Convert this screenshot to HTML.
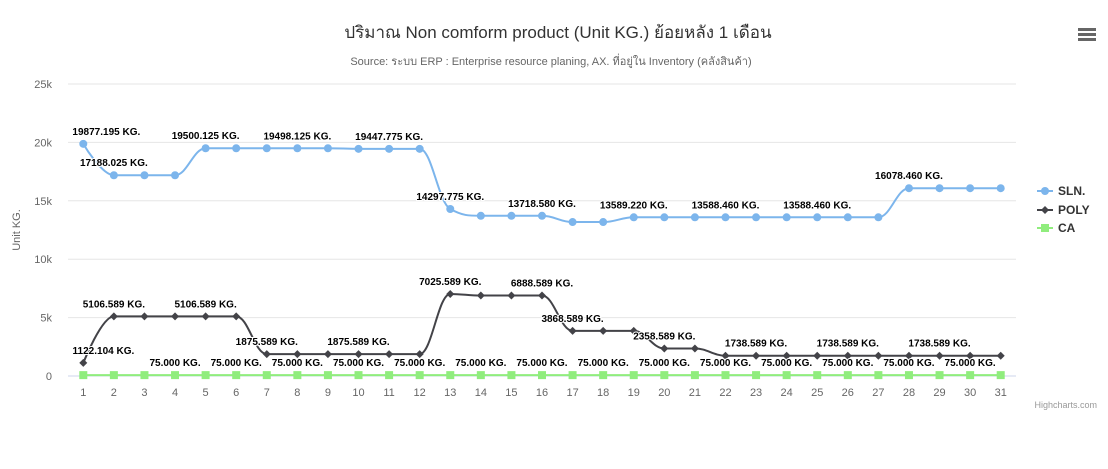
<!DOCTYPE html>
<html><head><meta charset="utf-8">
<style>
html,body{margin:0;padding:0;background:#fff;}
svg{display:block;font-family:"Liberation Sans","Noto Sans CJK SC","WenQuanYi Zen Hei",sans-serif;}
</style></head>
<body>
<svg id="chart" width="1108" height="469" viewBox="0 0 1108 469">
<text x="558" y="38" text-anchor="middle" font-size="17" fill="#333">ปริมาณ Non comform product (Unit KG.) ย้อยหลัง 1 เดือน</text>
<text x="551" y="65" text-anchor="middle" font-size="11" fill="#666">Source: ระบบ ERP : Enterprise resource planing, AX. ที่อยู่ใน Inventory (คลังสินค้า)</text>
<g>
<rect x="1078" y="28" width="18" height="3" fill="#666"/><rect x="1078" y="33" width="18" height="3" fill="#666"/><rect x="1078" y="38" width="18" height="3" fill="#666"/>
</g>
<text transform="translate(20,230) rotate(-90)" text-anchor="middle" font-size="11" fill="#666">Unit KG.</text>
<g id="grid"></g><g id="series"></g><g id="labels"></g>
<g>
<g><line x1="1037" y1="191" x2="1053" y2="191" stroke="#7cb5ec" stroke-width="2"/><circle cx="1045" cy="191" r="4" fill="#7cb5ec"/><text x="1058" y="195" font-size="12" font-weight="bold" fill="#333">SLN.</text></g>
<g><line x1="1037" y1="210" x2="1053" y2="210" stroke="#434348" stroke-width="2"/><path d="M1045 206 L1049 210 L1045 214 L1041 210Z" fill="#434348"/><text x="1058" y="214" font-size="12" font-weight="bold" fill="#333">POLY</text></g>
<g><line x1="1037" y1="228" x2="1053" y2="228" stroke="#90ed7d" stroke-width="2"/><rect x="1041" y="224" width="8" height="8" fill="#90ed7d"/><text x="1058" y="232" font-size="12" font-weight="bold" fill="#333">CA</text></g>
</g>
<text x="1097" y="408" text-anchor="end" font-size="9" fill="#999">Highcharts.com</text>
</svg>
<script>
const categories = ["1","2","3","4","5","6","7","8","9","10","11","12","13","14","15","16","17","18","19","20","21","22","23","24","25","26","27","28","29","30","31"];
const slnValues = [19877.195,17188.025,17188.025,17188.025,19500.125,19500.125,19500.125,19498.125,19498.125,19447.775,19447.775,19447.775,14297.775,13718.58,13718.58,13718.58,13180,13180,13589.22,13589.22,13589.22,13588.46,13588.46,13588.46,13588.46,13588.46,13588.46,16078.46,16078.46,16078.46,16078.46];
const polyValues = [1122.104,5106.589,5106.589,5106.589,5106.589,5106.589,1875.589,1875.589,1875.589,1875.589,1875.589,1875.589,7025.589,6888.589,6888.589,6888.589,3868.589,3868.589,3868.589,2358.589,2358.589,1738.589,1738.589,1738.589,1738.589,1738.589,1738.589,1738.589,1738.589,1738.589,1738.589];
const caValues = [75,75,75,75,75,75,75,75,75,75,75,75,75,75,75,75,75,75,75,75,75,75,75,75,75,75,75,75,75,75,75];
const slnLabelIdx = [0,1,4,7,10,12,15,18,21,24,27];
const polyLabelIdx = [0,1,4,6,9,12,15,16,19,22,25,28];
const caLabelIdx = [3,5,7,9,11,13,15,17,19,21,23,25,27,29];
const yTicks = [0,5000,10000,15000,20000,25000];
const yTickLabels = ["0","5k","10k","15k","20k","25k"];

const NS="http://www.w3.org/2000/svg";
const L=68,R=1016,T=84,B=376,yMax=25000;
const step=(R-L)/categories.length;
const xS=i=>L+step*(i+0.5);
const yS=v=>B-(v/yMax)*(B-T);
function mk(tag,attrs,parent){const e=document.createElementNS(NS,tag);for(const k in attrs)e.setAttribute(k,attrs[k]);parent.appendChild(e);return e;}
const grid=document.getElementById('grid'),ser=document.getElementById('series'),lab=document.getElementById('labels');
yTicks.forEach((t,i)=>{
  const g=mk('line',{x1:L,x2:R,y1:yS(t),y2:yS(t),stroke:t===0?'#ccd6eb':'#e6e6e6','stroke-width':1},grid);
  
  
  const tx=mk('text',{x:52,y:yS(t)+4,'text-anchor':'end','font-size':11,fill:'#666'},grid);
  tx.textContent=yTickLabels[i];
  
  
});
categories.forEach((c,i)=>{
  const t=mk('text',{x:xS(i),y:396,'text-anchor':'middle','font-size':11,fill:'#666'},grid);
  t.textContent=c;
  
  
});
function spline(vals){
  const p=vals.map((v,i)=>[xS(i),yS(v)]);
  const cont=p.map((pt,i)=>{
    if(i===0||i===p.length-1)return{l:pt.slice(),r:pt.slice()};
    const [x,y]=pt,[lx,ly]=p[i-1],[nx,ny]=p[i+1];
    let lcx=(1.5*x+lx)/2.5,lcy=(1.5*y+ly)/2.5,rcx=(1.5*x+nx)/2.5,rcy=(1.5*y+ny)/2.5;
    const corr=((rcy-lcy)*(rcx-x))/(rcx-lcx)+y-rcy;lcy+=corr;rcy+=corr;
    if(lcy>ly&&lcy>y){lcy=Math.max(ly,y);rcy=2*y-lcy;}else if(lcy<ly&&lcy<y){lcy=Math.min(ly,y);rcy=2*y-lcy;}
    if(rcy>ny&&rcy>y){rcy=Math.max(ny,y);lcy=2*y-rcy;}else if(rcy<ny&&rcy<y){rcy=Math.min(ny,y);lcy=2*y-rcy;}
    return{l:[lcx,lcy],r:[rcx,rcy]};
  });
  let d='M'+p[0][0]+' '+p[0][1];
  for(let i=1;i<p.length;i++){d+=' C'+cont[i-1].r.join(' ')+' '+cont[i].l.join(' ')+' '+p[i].join(' ');}
  return d;
}
function drawSeries(name,vals,color,marker,labelIdx){
  const g=mk('g',{},ser);
  
  
  const path=mk('path',{d:spline(vals),fill:'none',stroke:color,'stroke-width':2},g);
  
  
  vals.forEach((v,i)=>{
    const x=xS(i),y=yS(v);let m;
    if(marker==='circle')m=mk('circle',{cx:x,cy:y,r:4,fill:color},g);
    else if(marker==='diamond')m=mk('path',{d:`M${x} ${y-4} L${x+4} ${y} L${x} ${y+4} L${x-4} ${y}Z`,fill:color},g);
    else m=mk('rect',{x:x-4,y:y-4,width:8,height:8,fill:color},g);
    
    
  });
  labelIdx.forEach(i=>{
    const txt=vals[i].toFixed(3)+' KG.';
    const w=txt.length*5.9;
    let cx=xS(i);
    if(cx-w/2<L)cx=L+w/2;
    if(cx+w/2>R)cx=R-w/2;
    const t=mk('text',{x:cx,y:yS(vals[i])-9,'text-anchor':'middle','font-size':10,'font-weight':'bold',fill:'#000',stroke:'#fff','stroke-width':2,'paint-order':'stroke'},lab);
    t.textContent=txt;
    
    
  });
}
drawSeries('sln',slnValues,'#7cb5ec','circle',slnLabelIdx);
drawSeries('poly',polyValues,'#434348','diamond',polyLabelIdx);
drawSeries('ca',caValues,'#90ed7d','square',caLabelIdx);
</script>
</body></html>
